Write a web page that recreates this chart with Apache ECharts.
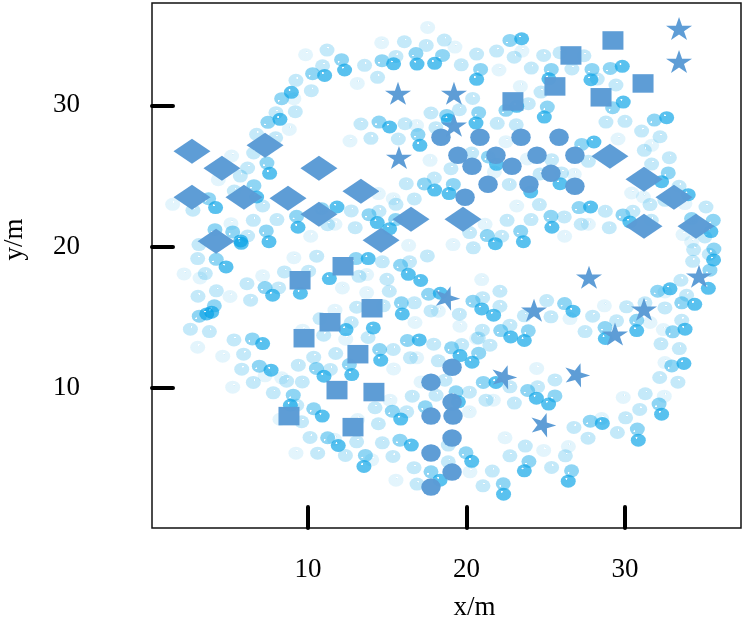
<!DOCTYPE html>
<html>
<head>
<meta charset="utf-8">
<style>html,body{margin:0;padding:0;background:#fff}#c{width:746px;height:617px}</style>
<script src="https://cdn.jsdelivr.net/npm/echarts@6/dist/echarts.min.js"></script>
</head>
<body>
<div id="c"></div>
<script>
const xTicks = [10, 20, 30];
const yTicks = [10, 20, 30];
const xTitle = 'x/m';
const yTitle = 'y/m';

const faintest = [[9.85,33.58],[14.65,34.43],[17.55,35.51],[13.11,31.55],[8.82,28.30],[12.65,27.48],[5.18,26.42],[4.34,24.74],[1.46,23.00],[5.14,21.63],[10.17,20.74],[9.11,19.23],[16.35,20.10],[17.70,26.11],[14.44,23.76],[15.38,23.40],[11.70,21.59],[16.85,28.58],[9.11,30.47],
[19.27,34.12],[22.05,32.50],[23.50,33.84],[23.40,31.34],[21.17,21.59],[22.49,27.43],[23.84,26.21],[23.17,22.88],[26.19,20.74],[19.15,20.15],[26.80,25.12],[27.69,21.59],[29.56,27.62],[31.68,27.17],[30.42,23.80],[31.16,23.52],[33.66,20.86],[34.20,20.34],[33.78,23.05],[21.76,25.29],
[2.18,18.08],[3.19,17.79],[7.14,17.94],[5.08,16.48],[12.17,17.09],[13.70,18.03],[13.70,16.76],[11.70,15.51],[16.75,14.64],[3.04,12.89],[4.62,12.26],[9.66,14.10],[12.38,13.46],[15.40,11.36],[8.34,10.73],[7.29,10.87],[5.25,10.07],[17.13,10.44],[9.24,5.40],[14.02,4.93],[15.55,3.49],[8.23,7.80],[15.17,9.15],[13.13,7.78],[11.66,6.39],[16.86,12.14],[18.22,15.44],
[20.96,17.68],[19.59,14.38],[28.70,15.82],[26.53,14.92],[20.18,8.32],[21.69,9.15],[29.89,9.34],[24.43,11.39],[32.48,9.43],[32.42,14.14],[32.52,11.81],[28.53,7.85],[22.43,6.49],[24.87,5.59],[26.43,5.87],[20.22,4.08],[31.58,14.64],[32.52,16.80],[20.64,13.51]];

const pale = [[11.20,33.91],[16.08,34.50],[17.46,34.24],[18.60,34.62],[15.55,33.46],[10.92,32.80],[13.57,32.83],[14.39,31.98],[9.24,31.77],[10.21,31.04],[9.20,29.55],[7.98,29.48],[6.76,27.95],[7.96,27.71],[6.57,26.63],[6.19,25.57],[5.73,25.00],[2.74,22.58],[5.35,23.94],[7.14,22.88],[6.55,21.87],[8.04,21.92],[12.73,22.53],[12.98,21.35],[11.24,21.56],[14.48,22.51],[15.55,23.00],[16.71,23.38],[16.20,24.46],[17.97,24.86],[13.97,27.67],[15.70,27.62],[13.34,28.68],[16.12,28.70],[17.76,29.46],[18.07,28.42],[10.55,19.33],[17.53,19.35],[14.69,18.93],[16.41,18.93],[3.04,19.16],[3.12,20.15],[6.19,20.76],
[20.64,33.63],[21.90,33.84],[19.67,32.87],[23.01,33.41],[24.87,33.53],[24.09,32.64],[25.90,33.72],[27.41,33.51],[26.65,32.57],[28.25,31.86],[29.43,31.44],[24.70,30.94],[20.39,30.49],[19.55,29.69],[23.90,30.12],[21.94,28.73],[23.14,28.63],[28.80,28.82],[30.00,28.87],[31.05,28.18],[32.21,27.78],[31.22,26.82],[32.80,26.30],[31.68,25.85],[25.37,26.16],[27.69,26.04],[22.70,24.41],[26.00,25.22],[24.64,25.15],[19.02,25.52],[20.33,26.63],[24.60,22.98],[22.56,21.87],[24.07,21.92],[26.17,22.11],[22.22,20.74],[28.76,22.51],[30.50,22.51],[31.58,22.98],[31.66,21.87],[20.20,21.00],[20.43,19.92],[27.24,21.59],[29.01,21.35],[35.11,22.81],[35.04,20.69],[34.33,19.80],[34.27,18.97],[35.32,19.47],[33.41,24.27],[32.52,23.28],
[3.52,18.10],[6.15,17.39],[4.22,16.88],[3.06,16.50],[6.38,16.22],[8.15,17.09],[8.51,18.22],[10.04,18.27],[13.22,17.91],[14.98,17.70],[15.13,16.85],[13.07,15.72],[14.75,15.82],[16.71,16.03],[17.76,15.46],[10.76,14.92],[12.73,14.64],[2.58,14.17],[3.78,14.00],[5.33,13.41],[5.94,12.40],[5.82,11.34],[10.99,13.74],[13.79,13.58],[8.65,10.49],[9.39,11.62],[9.64,10.44],[10.36,12.19],[11.75,12.45],[11.41,11.32],[7.81,9.67],[6.55,10.40],[15.38,12.73],[16.46,12.14],[17.93,13.11],[18.22,11.93],[18.64,10.56],[16.58,9.43],[18.08,9.50],[14.23,8.61],[16.23,8.32],[14.44,7.48],[9.29,8.79],[9.60,7.62],[13.07,6.20],[14.69,6.13],[10.13,6.51],[10.61,5.40],[12.36,5.24],[15.36,5.17],[16.69,4.37],[16.88,3.21],
[22.11,16.85],[21.02,16.40],[25.06,16.19],[19.55,15.23],[22.11,15.79],[23.65,15.11],[25.33,15.04],[22.74,14.45],[30.10,15.75],[27.96,15.09],[27.48,14.00],[29.47,14.76],[31.26,16.03],[33.53,17.63],[32.52,15.67],[33.89,16.57],[33.58,14.80],[32.27,13.13],[33.43,12.80],[21.48,13.04],[21.00,14.10],[20.75,13.55],[19.70,13.08],[25.58,10.58],[24.49,10.09],[22.74,10.09],[20.18,9.71],[23.02,8.94],[31.28,9.60],[30.93,8.49],[30.04,7.90],[26.78,7.22],[27.67,6.46],[29.52,6.86],[23.71,5.90],[22.74,5.21],[26.24,5.21],[25.37,4.39],[21.63,4.13],[21.04,3.09],[32.19,10.75],[33.34,10.42],[18.85,5.97],[18.85,4.79],[21.23,9.15]];

const medium = [[12.12,33.23],[10.29,32.24],[8.34,30.47],[7.47,28.80],[7.41,25.92],[14.67,33.16],[16.81,33.67],[18.49,33.53],[14.48,28.82],[16.94,27.93],[17.34,24.44],[6.59,24.32],[3.73,23.40],[9.28,22.15],[7.37,21.12],[13.85,22.27],[4.13,21.21],[5.25,21.05],[4.21,19.11],[13.03,19.16],[15.53,21.92],[15.84,18.69],[10.86,22.69],
[22.74,34.59],[20.89,32.54],[25.35,32.54],[27.92,32.54],[29.07,32.61],[22.49,29.65],[25.10,29.88],[29.22,29.83],[20.77,29.48],[18.75,29.29],[31.85,28.96],[27.27,27.24],[21.38,26.35],[32.73,25.22],[19.17,24.41],[27.10,22.77],[29.87,22.25],[25.33,22.15],[23.42,21.09],[21.31,20.79],[35.57,21.87],[35.61,19.84],[34.20,21.99],
[7.29,17.11],[4.09,15.82],[3.14,15.09],[15.89,16.03],[17.61,16.64],[6.49,13.48],[6.93,11.55],[10.53,11.39],[12.61,11.67],[14.52,12.73],[16.27,13.37],[9.07,9.50],[10.36,8.54],[15.32,8.37],[17.40,8.68],[11.24,6.49],[15.80,6.32],[13.62,5.24],[17.76,4.08],
[20.41,16.15],[26.19,15.98],[23.90,14.05],[22.16,14.07],[28.74,14.28],[30.74,14.80],[32.06,16.85],[33.58,16.03],[33.01,13.98],[32.95,11.57],[19.06,12.85],[20.77,12.47],[21.06,10.40],[19.34,9.74],[23.86,9.83],[25.58,9.45],[32.15,8.87],[30.78,7.10],[27.81,7.66],[19.97,5.43],[23.94,4.81],[26.63,4.15],[22.32,3.23],[35.36,18.34]];

const strong = [[12.31,32.50],[11.05,32.12],[8.95,30.92],[8.23,29.01],[7.58,25.19],[15.40,32.94],[16.88,32.92],[17.99,32.97],[15.15,28.47],[17.06,27.17],[17.99,24.01],[4.17,22.77],[6.76,23.52],[11.83,22.81],[14.37,21.71],[9.37,21.38],[7.54,20.36],[15.15,21.28],[5.79,20.24],[5.75,20.41],[13.80,19.16],
[23.48,34.71],[20.64,31.84],[29.83,32.76],[27.85,31.81],[25.20,31.88],[29.89,30.23],[24.91,29.17],[32.63,29.13],[20.60,28.75],[28.04,27.41],[21.90,25.83],[32.31,24.60],[25.90,24.46],[33.99,23.68],[24.05,23.87],[18.90,23.76],[27.83,22.81],[30.31,21.75],[25.39,21.38],[21.82,20.22],[23.59,20.36],[35.42,21.07],[35.59,19.07],[23.17,29.93],[18.85,28.99],
[4.83,18.57],[11.35,17.75],[9.52,16.71],[7.77,16.57],[16.33,18.05],[17.11,17.61],[15.95,15.25],[18.35,16.71],[3.92,15.37],[3.61,15.25],[14.12,14.26],[12.40,14.14],[7.14,13.15],[11.01,10.84],[12.76,10.96],[14.59,11.98],[17.02,13.41],[7.67,11.27],[8.89,8.79],[10.90,8.02],[15.85,7.81],[11.91,5.94],[16.52,5.97],[13.53,4.46],[18.33,3.49],
[20.96,15.60],[21.71,15.16],[26.72,15.44],[22.79,13.62],[23.65,13.37],[30.74,14.07],[28.76,13.51],[32.84,17.02],[34.40,15.93],[33.79,14.17],[33.72,11.74],[35.26,17.06],[19.59,12.30],[20.35,11.83],[21.86,10.40],[24.41,9.29],[25.18,8.87],[32.31,8.16],[30.84,6.32],[28.57,7.50],[20.33,4.82],[23.65,4.15],[26.42,3.42],[22.34,2.50],[19.49,9.03]];

const diamonds = [[2.68,26.75],[4.57,25.55],[7.29,27.17],[10.69,25.55],[2.68,23.50],[5.96,23.50],[8.74,23.43],[13.34,23.92],[10.69,22.30],[16.50,21.94],[14.61,20.46],[4.20,20.39],[19.78,21.94],[29.05,26.40],[31.20,24.77],[33.09,23.50],[31.20,21.45],[34.48,21.45]];
const squares = [[29.24,34.59],[26.59,33.53],[25.58,31.34],[22.93,30.28],[28.49,30.57],[31.14,31.55],[9.50,17.63],[12.21,18.62],[14.04,15.65],[11.39,14.66],[9.75,13.53],[13.15,12.40],[11.83,9.86],[14.16,9.72],[8.80,8.02],[12.84,7.24]];
const discs = [[18.39,27.74],[20.85,27.74],[23.44,27.74],[25.84,27.74],[19.46,26.47],[21.86,26.47],[24.45,26.47],[26.84,26.47],[20.35,25.69],[22.87,25.69],[25.33,25.19],[21.36,24.42],[23.94,24.42],[26.84,24.28],[19.91,23.50],
[17.76,10.42],[17.76,8.02],[17.76,5.41],[17.76,3.00],[19.09,11.48],[19.09,9.01],[19.15,8.02],[19.09,6.47],[19.09,4.06]];
const stars = [[33.41,35.44],[33.41,33.11],[15.68,30.85],[19.21,30.85],[19.21,28.59],[15.74,26.32],[27.73,17.84],[24.26,15.51],[31.20,15.58],[34.67,17.92],[29.37,13.82]];
const tiltedStars = [[18.77,16.43],[22.37,10.85],[26.97,10.99],[24.83,7.46]];

const ink = '#000';
const serif = '"Liberation Serif","Times New Roman",serif';
const markBlue = '#5b9bd5';
const starPath = 'path://M0,-100 L22.45,-30.9 L95.1,-30.9 L36.3,11.8 L58.8,80.9 L0,38.2 L-58.8,80.9 L-36.3,11.8 L-95.1,-30.9 L-22.45,-30.9 Z';

function bubble(alpha, hx, hy, glow) {
  const base = a => 'rgba(0,160,230,' + a + ')';
  return {
    type: 'radial', x: hx, y: hy, r: 0.085, global: false,
    colorStops: [
      { offset: 0, color: 'rgba(255,255,255,' + glow + ')' },
      { offset: 0.6, color: 'rgba(255,255,255,' + glow * 0.85 + ')' },
      { offset: 1, color: base(alpha) }
    ]
  };
}
function bubbles(name, data, alpha, hx, hy, glow) {
  return { name, type: 'scatter', data, symbol: 'circle', symbolSize: [15, 13], silent: true,
    itemStyle: { color: bubble(alpha, hx, hy, glow), opacity: 1 } };
}
function marks(name, data, symbol, size, rotate) {
  return { name, type: 'scatter', data, symbol, symbolSize: size, symbolRotate: rotate || 0, silent: true,
    itemStyle: { color: markBlue, opacity: 0.98 }, z: 5 };
}

const chart = echarts.init(document.getElementById('c'), null, { renderer: 'canvas' });
const axisCommon = {
  type: 'value', splitLine: { show: false }, axisLine: { show: false },
  axisTick: { show: true, inside: true, length: 21, lineStyle: { color: ink, width: 4, cap: 'round' } },
  nameLocation: 'middle',
  nameTextStyle: { fontFamily: serif, fontSize: 27, color: ink }
};
chart.setOption({
  animation: false,
  backgroundColor: '#fff',
  grid: { left: 152, right: 5, top: 3, bottom: 89, show: true, borderColor: '#111', borderWidth: 1.5, backgroundColor: 'transparent', outerBoundsMode: 'none' },
  xAxis: Object.assign({}, axisCommon, {
    min: 0.158, max: 37.32, name: xTitle, nameGap: 66,
    nameTextStyle: Object.assign({}, axisCommon.nameTextStyle, { padding: [0, 0, 0, 56] }),
    axisTick: Object.assign({}, axisCommon.axisTick, { customValues: xTicks }),
    axisLabel: { customValues: xTicks, fontFamily: serif, fontSize: 27, color: ink, margin: 28, formatter: v => String(v) }
  }),
  yAxis: Object.assign({}, axisCommon, {
    min: 0.106, max: 37.24, name: yTitle, nameGap: 124,
    nameTextStyle: Object.assign({}, axisCommon.nameTextStyle, { padding: [0, 0, 0, 52] }),
    axisTick: Object.assign({}, axisCommon.axisTick, { customValues: yTicks }),
    axisLabel: { customValues: yTicks, fontFamily: serif, fontSize: 27, color: ink, margin: 72, formatter: v => String(v) }
  }),
  series: [
    bubbles('faintest', faintest, 0.11, 0.58, 0.32, 0.7),
    bubbles('pale', pale, 0.23, 0.58, 0.32, 0.85),
    bubbles('medium', medium, 0.44, 0.3, 0.66, 0.95),
    bubbles('strong', strong, 0.65, 0.38, 0.32, 1),
    marks('diamonds', diamonds, 'diamond', [37, 25]),
    marks('squares', squares, 'rect', [21, 18.5]),
    marks('discs', discs, 'circle', [19.5, 17.5]),
    marks('stars', stars, starPath, [26, 23]),
    marks('tiltedStars', tiltedStars, starPath, [26, 23], -18)
  ]
});
</script>
</body>
</html>
